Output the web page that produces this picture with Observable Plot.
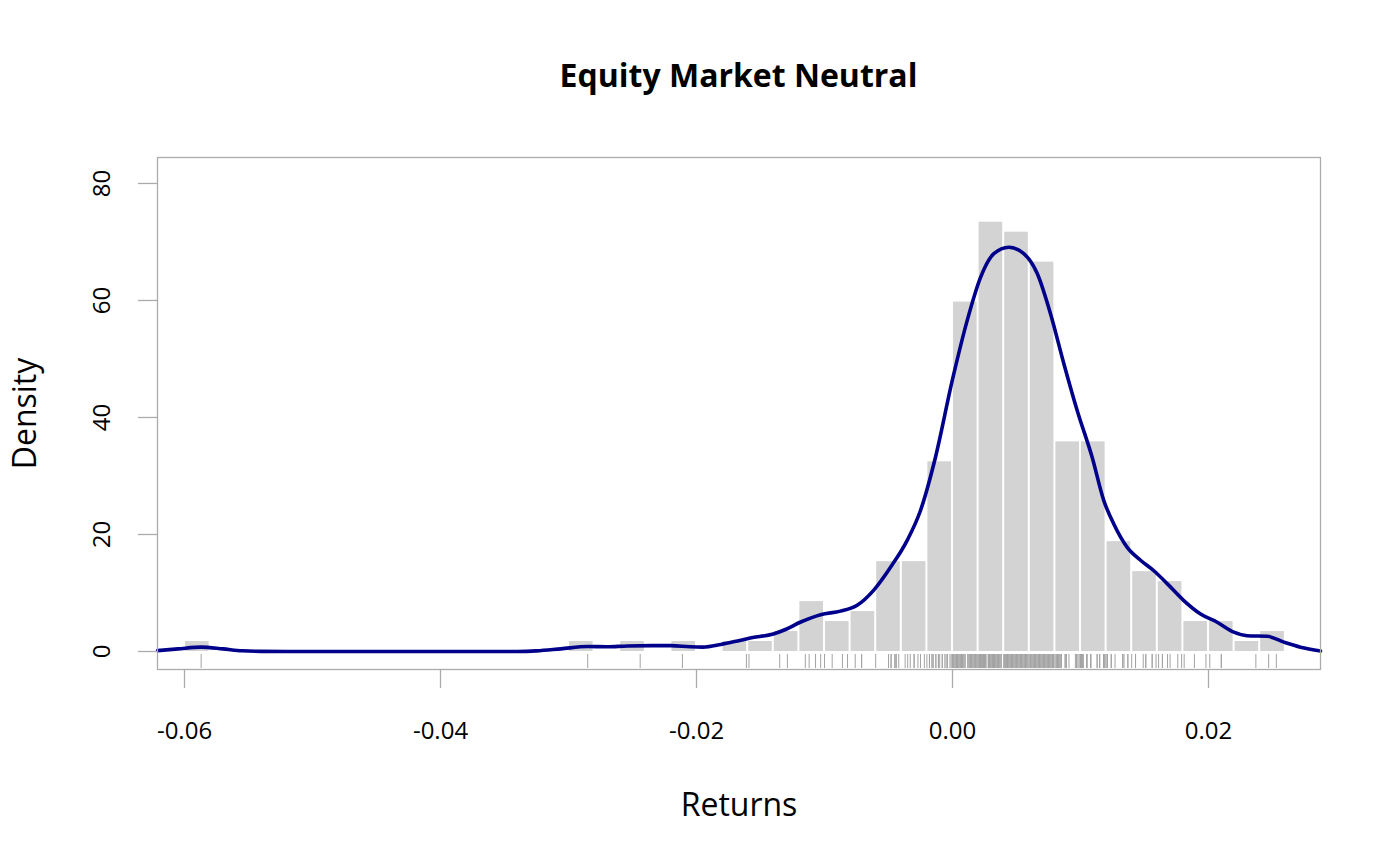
<!DOCTYPE html>
<html>
<head>
<meta charset="utf-8">
<script src="https://cdn.jsdelivr.net/npm/d3@7"></script>
<script src="https://cdn.jsdelivr.net/npm/@observablehq/plot@0.6"></script>
<style>
  html, body { margin: 0; padding: 0; background: #fff; }
  body { width: 1400px; height: 866px; overflow: hidden; font-family: "Open Sans", sans-serif; }
  #title { box-sizing: border-box; height: 120px; margin-left: 157px; width: 1163px; padding-top: 59px;
           text-align: center; font: bold 32px/32px "Open Sans", sans-serif; color: #000; }
  svg { display: block; }
</style>
</head>
<body>
<div id="title">Equity Market Neutral</div>
<div id="chart"></div>
<script>
// Histogram bins (left edges, width 0.002) and counts (non-empty bins only)
const binLeft = [-0.060, -0.030, -0.026, -0.022, -0.018, -0.016, -0.014, -0.012, -0.010, -0.008,
                 -0.006, -0.004, -0.002, 0.000, 0.002, 0.004, 0.006, 0.008, 0.010, 0.012,
                 0.014, 0.016, 0.018, 0.020, 0.022, 0.024];
const binCount = [1, 1, 1, 1, 1, 1, 2, 5, 3, 4,
                  9, 9, 19, 35, 43, 42, 39, 21, 21, 11,
                  8, 7, 3, 3, 1, 2];
const binWidth = 0.002;
const nObs = 293;

// Kernel density curve
const densX = [-0.0621, -0.0605, -0.0587, -0.0570, -0.0555, -0.0540, -0.0520, -0.0340, -0.0325, -0.0306,
               -0.0285, -0.0270, -0.0254, -0.0235, -0.0220, -0.0205, -0.0195, -0.0181, -0.0168, -0.0158,
               -0.0140, -0.0130, -0.0119, -0.0103, -0.00875, -0.00745, -0.00615, -0.00484, -0.00354, -0.0025,
               -0.00133, 0.0000, 0.00115, 0.0022, 0.00323, 0.0044, 0.00557, 0.00662, 0.00766, 0.0087,
               0.00974, 0.01091, 0.01182, 0.0126, 0.01365, 0.01469, 0.01573, 0.01677, 0.01807, 0.01938,
               0.02068, 0.02198, 0.02302, 0.02458, 0.02589, 0.02719, 0.02875];
const densY = [0.15, 0.45, 0.75, 0.45, 0.12, 0.02, 0, 0, 0.1, 0.45,
               0.85, 0.8, 0.95, 1.0, 1.0, 0.8, 0.75, 1.2, 1.8, 2.3,
               3.0, 3.8, 5.0, 6.3, 6.9, 7.9, 10.5, 14.4, 19.0, 24.1,
               33.2, 46.5, 56.6, 64.0, 68.0, 69.1, 68.0, 64.6, 57.7, 49.2,
               41.2, 33.2, 25.8, 21.8, 17.8, 15.6, 13.8, 11.6, 8.7, 6.4,
               5.0, 3.3, 2.7, 2.6, 1.6, 0.74, 0.1];

// Individual returns (rug)
const returns = [
  -0.0587, -0.0285, -0.0244, -0.0211, -0.0161, -0.0159, -0.0135, -0.0129,
  -0.0115, -0.0112, -0.0107, -0.0103, -0.0100, -0.0094, -0.0086, -0.0082,
  -0.0076, -0.0071, -0.0071, -0.0060,
  -0.0050, -0.0050, -0.0048, -0.0048, -0.0045, -0.0045, -0.0044, -0.0044, -0.0042,
  -0.0037, -0.0035, -0.0033, -0.0030, -0.0030, -0.0027, -0.0025, -0.0022, -0.0020,
  -0.0018, -0.0018, -0.0016, -0.0016, -0.0015, -0.0013, -0.0013, -0.0011, -0.0011, -0.0010,
  -0.0008, -0.0008, -0.0006, -0.0005, -0.0004, -0.0004, -0.0002, -0.0001, 0.0000,
  0.0001, 0.0001, 0.0002, 0.0002, 0.0003, 0.0003, 0.0004, 0.0004, 0.0005, 0.0005, 0.0006, 0.0006,
  0.0007, 0.0007, 0.0008, 0.0008, 0.0009, 0.0009, 0.0010, 0.0012, 0.0012, 0.0013, 0.0013, 0.0014,
  0.0014, 0.0015, 0.0015, 0.0016, 0.0016, 0.0017, 0.0017, 0.0018, 0.0019, 0.0019, 0.0020, 0.0020,
  0.0021, 0.0021, 0.0021, 0.0022, 0.0022, 0.0022, 0.0023, 0.0023, 0.0023, 0.0024, 0.0024, 0.0024,
  0.0025, 0.0025, 0.0026, 0.0026, 0.0026, 0.0028, 0.0028, 0.0028, 0.0029, 0.0029, 0.0029, 0.0030,
  0.0030, 0.0031, 0.0031, 0.0031, 0.0032, 0.0032, 0.0033, 0.0033, 0.0033, 0.0034, 0.0034, 0.0035,
  0.0035, 0.0036, 0.0036, 0.0037, 0.0037, 0.0038, 0.0038, 0.0040,
  0.0041, 0.0041, 0.0041, 0.0042, 0.0042, 0.0043, 0.0043, 0.0043, 0.0044, 0.0044, 0.0045, 0.0045,
  0.0046, 0.0046, 0.0046, 0.0047, 0.0047, 0.0048, 0.0048, 0.0049, 0.0049, 0.0050, 0.0050, 0.0051,
  0.0051, 0.0052, 0.0052, 0.0053, 0.0053, 0.0054, 0.0054, 0.0055, 0.0055, 0.0056, 0.0056, 0.0057,
  0.0057, 0.0058, 0.0058, 0.0059, 0.0059, 0.0060,
  0.0061, 0.0061, 0.0062, 0.0062, 0.0063, 0.0063, 0.0064, 0.0064, 0.0065, 0.0065, 0.0066, 0.0066,
  0.0067, 0.0067, 0.0068, 0.0068, 0.0069, 0.0069, 0.0070, 0.0070, 0.0071, 0.0071, 0.0072, 0.0072,
  0.0073, 0.0073, 0.0074, 0.0074, 0.0075, 0.0075, 0.0076, 0.0076, 0.0077, 0.0077, 0.0078, 0.0078,
  0.0079, 0.0079, 0.0080,
  0.0081, 0.0081, 0.0082, 0.0082, 0.0083, 0.0083, 0.0084, 0.0084, 0.0085, 0.0085, 0.0088, 0.0088,
  0.0089, 0.0089, 0.0091, 0.0096, 0.0097, 0.0097, 0.0098, 0.0099, 0.0100,
  0.0101, 0.0101, 0.0101, 0.0102, 0.0102, 0.0102, 0.0105, 0.0105, 0.0105, 0.0108, 0.0108, 0.0108,
  0.0113, 0.0113, 0.0115, 0.0115, 0.0118, 0.0118, 0.0119, 0.0119, 0.0120,
  0.0121, 0.0121, 0.0124, 0.0124, 0.0127, 0.0133, 0.0133, 0.0134, 0.0137, 0.0137, 0.0140,
  0.0143, 0.0143, 0.0149, 0.0151, 0.0151, 0.0156, 0.0156, 0.0159,
  0.0161, 0.0164, 0.0164, 0.0168, 0.0170, 0.0176, 0.0179,
  0.0181, 0.0189, 0.0198, 0.0201, 0.0210, 0.0210, 0.0237, 0.0247, 0.0253
];

const xTicks = [-0.06, -0.04, -0.02, 0.00, 0.02];
const xTickLabels = ["-0.06", "-0.04", "-0.02", "0.00", "0.02"];
const yTicks = [0, 20, 40, 60, 80];

const bins = binLeft.map((x1, i) => ({x1, x2: x1 + binWidth, density: binCount[i] / (nObs * binWidth)}));
const dens = densX.map((x, i) => ({x, y: densY[i]}));

const gray = "#ababab";
const chart = Plot.plot({
  width: 1400,
  height: 746,
  marginTop: 37,
  marginBottom: 197,
  marginLeft: 157,
  marginRight: 80,
  style: {fontFamily: "Open Sans, sans-serif", color: "#000", background: "#fff"},
  x: {domain: [-0.06211, 0.02875]},
  y: {domain: [-3.077, 84.44]},
  marks: [
    Plot.rectY(bins, {x1: "x1", x2: "x2", y1: 0, y2: "density", fill: "#d3d3d3", insetLeft: 1, insetRight: 1}),
    Plot.ruleX(returns, {x: d => d, stroke: "#a3a3a3", strokeWidth: 1, insetTop: 497, insetBottom: 1}),
    Plot.line(dens, {x: "x", y: "y", stroke: "#00008b", strokeWidth: 3.6, curve: "monotone-x"}),
    Plot.frame({stroke: gray, strokeWidth: 1.3}),
    Plot.axisX(xTicks, {tickSize: 19, tickFormat: () => "", stroke: gray, strokeWidth: 1.3, label: null}),
    Plot.axisY(yTicks, {tickSize: 19, tickFormat: () => "", stroke: gray, strokeWidth: 1.3, label: null}),
    Plot.text(xTicks, {x: d => d, text: (d, i) => xTickLabels[i], frameAnchor: "bottom", dy: 62,
                       textAnchor: "middle", lineAnchor: "middle", fontSize: 24, fill: "#000"}),
    Plot.text(yTicks, {y: d => d, text: d => String(d), frameAnchor: "left", dx: -55, rotate: -90,
                       textAnchor: "middle", lineAnchor: "middle", fontSize: 24, fill: "#000"}),
    Plot.text(["Returns"], {text: d => d, frameAnchor: "bottom", dy: 136, textAnchor: "middle",
                            lineAnchor: "middle", fontSize: 32, fill: "#000"}),
    Plot.text(["Density"], {text: d => d, frameAnchor: "left", dx: -132, rotate: -90, textAnchor: "middle",
                            lineAnchor: "middle", fontSize: 32, fill: "#000"})
  ]
});
document.getElementById("chart").appendChild(chart);
</script>
</body>
</html>
